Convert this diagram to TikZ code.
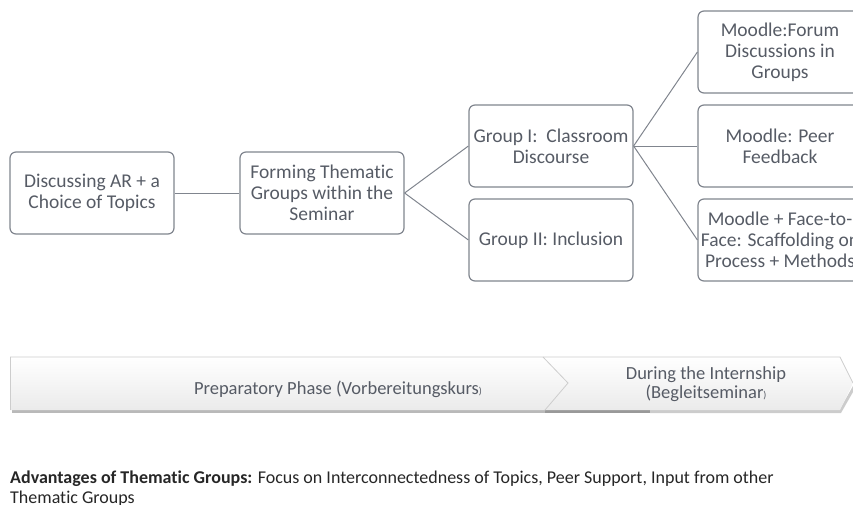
\documentclass[tikz,border=0pt]{standalone}
\usepackage{fontspec}
\setmainfont{Carlito}[Ligatures=NoCommon]
\usepackage{xcolor}
\usetikzlibrary{positioning, shapes}
\definecolor{boxline}{RGB}{128,133,142}
\definecolor{boxtext}{RGB}{86,91,101}
\definecolor{bandedge}{RGB}{205,205,205}

\begin{document}
\begin{tikzpicture}[x=1pt,y=-1pt]
            \tikzset{block/.style = {draw=boxline,line width=1.2pt,rounded corners=6pt,
                minimum width=164pt,minimum height=82pt,align=center,text=boxtext,
                font=\fontsize{19.5}{21}\selectfont,inner sep=0pt}}
            \tikzset{link/.style = {draw=boxline,line width=1pt}}
            \tikzset{phase/.style = {align=center,text=boxtext,font=\fontsize{18.5}{18.5}\selectfont}}

            \useasboundingbox (0,0) rectangle (853,504);
            \clip (0,0) rectangle (853,504);

            % seminar steps
            \node[block] (discuss) at (92, 193) {Discussing AR + a\\Choice of Topics};
            \node[block] (forming) at (322, 193) {Forming Thematic\\Groups within the\\Seminar};

            % thematic groups
            \node[block] (groupI) at (551, 146) {Group I:\ \ Classroom\\Discourse};
            \node[block] (groupII) at (551, 240) {Group II: Inclusion};

            % moodle tasks
            \node[block] (forum) at (780, 52) {Moodle:Forum\\Discussions in\\Groups};
            \node[block] (peer) at (780, 146) {Moodle: Peer\\Feedback};
            \node[block] (scaffold) at (780, 240) {Moodle + Face-to-\\Face: Scaffolding on\\Process + Methods};

            \draw[link] (discuss.east) -- (forming.west);
            \draw[link] (forming.east) -- (groupI.west);
            \draw[link] (forming.east) -- (groupII.west);
            \draw[link] (groupI.east) -- (forum.west);
            \draw[link] (groupI.east) -- (peer.west);
            \draw[link] (groupI.east) -- (scaffold.west);

            % phase band with shadow
            \fill[gray!55] (12, 409) rectangle (545, 412.5);
            \fill[gray!80] (545, 409) rectangle (650, 413);
            \fill[gray!40] (650, 409) -- (840, 409) -- (853, 386) -- (853, 392) -- (841, 413) -- (650, 413) -- cycle;
            \shade[top color=white,bottom color=gray!16] (10, 357)
                -- (543, 357) -- (568, 383) -- (545, 410) -- (10, 410) -- cycle;
            \shade[top color=white,bottom color=gray!16] (543, 357)
                -- (840, 357) -- (853, 383) -- (840, 410) -- (545, 410) -- (568, 383) -- cycle;
            \draw[bandedge,line width=0.8pt] (10, 357) -- (840, 357) -- (853, 383);
            \draw[bandedge,line width=0.8pt] (10, 357) -- (10, 410);
            \draw[bandedge,line width=0.8pt] (543, 357) -- (568, 383) -- (545, 410);

            \node[phase] (prep) at (338, 389) {Preparatory Phase (Vorbereitungskurs{\fontsize{10}{10}\selectfont )}};
            \node[phase] (during) at (706, 384) {During the Internship\\(Begleitseminar{\fontsize{10}{10}\selectfont )}};

            % advantages note
            \node[anchor=north west,align=left,text=black!85,inner sep=0pt,
                font=\fontsize{18}{20}\selectfont] (note) at (10, 471)
                {\textbf{Advantages of Thematic Groups:} Focus on Interconnectedness of Topics, Peer Support, Input from other\\Thematic Groups};
\end{tikzpicture}
\end{document}
